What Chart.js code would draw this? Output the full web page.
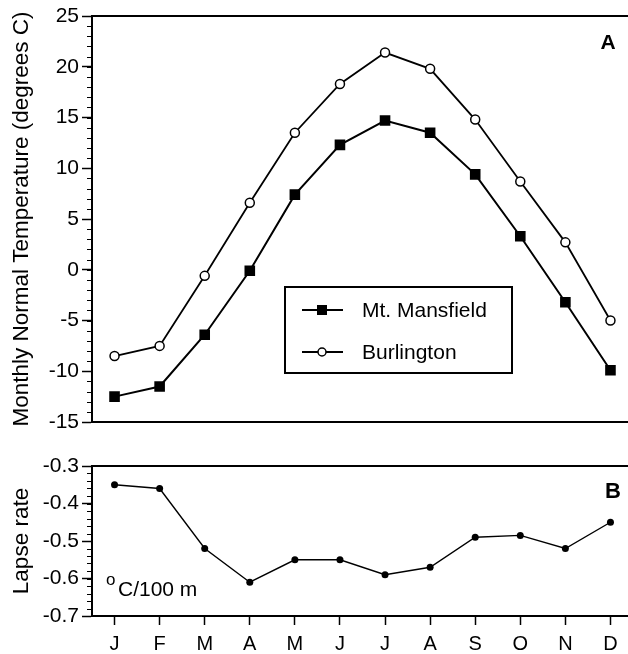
<!DOCTYPE html>
<html>
<head>
<meta charset="utf-8">
<script src="https://cdn.jsdelivr.net/npm/chart.js@4/dist/chart.umd.min.js"></script>
<style>
  html, body { margin: 0; padding: 0; background: #fff; }
  body { width: 628px; height: 654px; overflow: hidden; position: relative; }
  #wrap { position: absolute; left: 0; top: 0; width: 660px; height: 654px; }
  canvas { position: absolute; left: 0; }
  #tempChart { top: 0; }
  #lapseChart { top: 440px; }
</style>
</head>
<body>
<div id="wrap">
<canvas id="tempChart" width="633" height="440"></canvas>
<canvas id="lapseChart" width="633" height="214"></canvas>
</div>
<script>
// monthly normals
const months = ['J', 'F', 'M', 'A', 'M', 'J', 'J', 'A', 'S', 'O', 'N', 'D'];
const mansfield = [-12.5, -11.5, -6.4, -0.1, 7.4, 12.3, 14.7, 13.5, 9.4, 3.3, -3.2, -9.9];
const burlington = [-8.5, -7.5, -0.6, 6.6, 13.5, 18.3, 21.4, 19.8, 14.8, 8.7, 2.7, -5.0];
const lapseRate = [-0.35, -0.36, -0.52, -0.61, -0.55, -0.55, -0.59, -0.57, -0.49, -0.485, -0.52, -0.45];

const tempTicks = { min: -15, max: 25, step: 5, minor: 1 };
const lapseTicks = { min: -0.7, max: -0.3, step: 0.1, minor: 0.02 };

const FONT = "'Liberation Sans', Arial, Helvetica, sans-serif";
Chart.defaults.font.family = FONT;
Chart.defaults.color = '#000';
Chart.defaults.animation = false;

// small ticks between the labelled ones
const minorTicks = {
  id: 'minorTicks',
  afterDraw(chart, args, opts) {
    const y = chart.scales.y;
    const ctx = chart.ctx;
    const n = Math.round((y.max - y.min) / opts.step);
    ctx.save();
    ctx.strokeStyle = '#000';
    ctx.lineWidth = 1.2;
    ctx.beginPath();
    for (let i = 0; i <= n; i++) {
      const py = Math.round(y.getPixelForValue(y.min + i * opts.step)) + 0.5;
      ctx.moveTo(y.right - 5, py);
      ctx.lineTo(y.right, py);
    }
    ctx.stroke();
    ctx.restore();
  }
};

// top edge of the box + panel letter + free text
const decor = {
  id: 'decor',
  afterDraw(chart, args, opts) {
    const ctx = chart.ctx;
    const a = chart.chartArea;
    ctx.save();
    ctx.strokeStyle = '#000';
    ctx.lineWidth = 2;
    ctx.beginPath();
    ctx.moveTo(a.left, a.top);
    ctx.lineTo(a.right, a.top);
    ctx.stroke();

    ctx.fillStyle = '#000';
    ctx.textAlign = 'center';
    ctx.textBaseline = 'middle';
    ctx.font = 'bold ' + opts.letterSize + 'px ' + FONT;
    ctx.fillText(opts.letter, opts.letterX, opts.letterY);

    if (opts.note) {
      ctx.textAlign = 'left';
      ctx.textBaseline = 'alphabetic';
      ctx.font = '17px ' + FONT;
      ctx.fillText('o', opts.note.x, opts.note.y - 11);
      ctx.font = '21px ' + FONT;
      ctx.fillText(opts.note.text, opts.note.x + 12, opts.note.y);
    }
    ctx.restore();
  }
};

// boxed legend inside the plot
const boxLegend = {
  id: 'boxLegend',
  afterDraw(chart, args, opts) {
    const ctx = chart.ctx;
    const b = opts.box;
    ctx.save();
    ctx.strokeStyle = '#000';
    ctx.lineWidth = 2;
    ctx.strokeRect(b.x, b.y, b.w, b.h);
    chart.data.datasets.forEach((ds, i) => {
      const y = b.y + 23 + i * 42;
      const x0 = b.x + 17;
      ctx.lineWidth = ds.borderWidth;
      ctx.strokeStyle = '#000';
      ctx.beginPath();
      ctx.moveTo(x0, y);
      ctx.lineTo(x0 + 41, y);
      ctx.stroke();
      const cx = x0 + 20;
      if (ds.pointStyle === 'rect') {
        ctx.fillStyle = '#000';
        ctx.fillRect(cx - 5, y - 5, 10, 10);
      } else {
        ctx.fillStyle = '#fff';
        ctx.lineWidth = 1.5;
        ctx.beginPath();
        ctx.arc(cx, y, 4, 0, Math.PI * 2);
        ctx.fill();
        ctx.stroke();
      }
      ctx.fillStyle = '#000';
      ctx.font = '21px ' + FONT;
      ctx.textAlign = 'left';
      ctx.textBaseline = 'middle';
      ctx.fillText(ds.label, b.x + 77, y + 1);
    });
    ctx.restore();
  }
};

function yAxis(t, title) {
  return {
    type: 'linear',
    min: t.min,
    max: t.max,
    afterFit(scale) { scale.width = 92; },
    border: { display: true, color: '#000', width: 2 },
    grid: { display: true, drawOnChartArea: false, drawTicks: true, tickLength: 10, tickColor: '#000', tickWidth: 1.5 },
    ticks: {
      stepSize: t.step,
      padding: 3,
      font: { size: 21 },
      callback: (v) => t.step < 1 ? Number(v).toFixed(1) : v
    },
    title: { display: true, text: title, font: { size: 22.5 }, padding: { top: 8, bottom: 0 } }
  };
}

new Chart(document.getElementById('tempChart'), {
  type: 'line',
  data: {
    labels: months,
    datasets: [
      {
        label: 'Mt. Mansfield',
        data: mansfield,
        borderColor: '#000',
        borderWidth: 2,
        pointStyle: 'rect',
        pointRadius: 7.5,
        pointBackgroundColor: '#000',
        pointBorderColor: '#000',
        pointBorderWidth: 0
      },
      {
        label: 'Burlington',
        data: burlington,
        borderColor: '#000',
        borderWidth: 1.8,
        pointStyle: 'circle',
        pointRadius: 4.5,
        pointBackgroundColor: '#fff',
        pointBorderColor: '#000',
        pointBorderWidth: 1.5
      }
    ]
  },
  options: {
    responsive: false,
    layout: { autoPadding: false, padding: { top: 16, bottom: 18, left: 0, right: 0 } },
    plugins: {
      legend: { display: false },
      tooltip: { enabled: false },
      minorTicks: { step: tempTicks.minor },
      decor: { letter: 'A', letterSize: 21, letterX: 608, letterY: 43 },
      boxLegend: { box: { x: 285, y: 287, w: 227, h: 86 } }
    },
    scales: {
      x: {
        offset: true,
        afterFit(scale) { scale.height = 0; },
        border: { display: true, color: '#000', width: 2 },
        grid: { display: false },
        ticks: { display: false }
      },
      y: yAxis(tempTicks, 'Monthly Normal Temperature (degrees C)')
    }
  },
  plugins: [minorTicks, decor, boxLegend]
});

new Chart(document.getElementById('lapseChart'), {
  type: 'line',
  data: {
    labels: months,
    datasets: [{
      label: 'Lapse rate',
      data: lapseRate,
      borderColor: '#000',
      borderWidth: 1.4,
      pointStyle: 'circle',
      pointRadius: 3.5,
      pointBackgroundColor: '#000',
      pointBorderColor: '#000',
      pointBorderWidth: 0
    }]
  },
  options: {
    responsive: false,
    layout: { autoPadding: false, padding: { top: 26, bottom: 0, left: 0, right: 0 } },
    plugins: {
      legend: { display: false },
      tooltip: { enabled: false },
      minorTicks: { step: lapseTicks.minor },
      decor: {
        letter: 'B', letterSize: 22, letterX: 613, letterY: 52,
        note: { text: 'C/100 m', x: 106, y: 156 }
      }
    },
    scales: {
      x: {
        offset: true,
        afterFit(scale) { scale.height = 38; },
        border: { display: true, color: '#000', width: 2 },
        grid: { display: true, drawOnChartArea: false, drawTicks: true, tickLength: 9, tickColor: '#000', tickWidth: 1.5 },
        ticks: { font: { size: 20 }, padding: 7, autoSkip: false, maxRotation: 0 }
      },
      y: yAxis(lapseTicks, 'Lapse rate')
    }
  },
  plugins: [minorTicks, decor]
});
</script>
</body>
</html>
